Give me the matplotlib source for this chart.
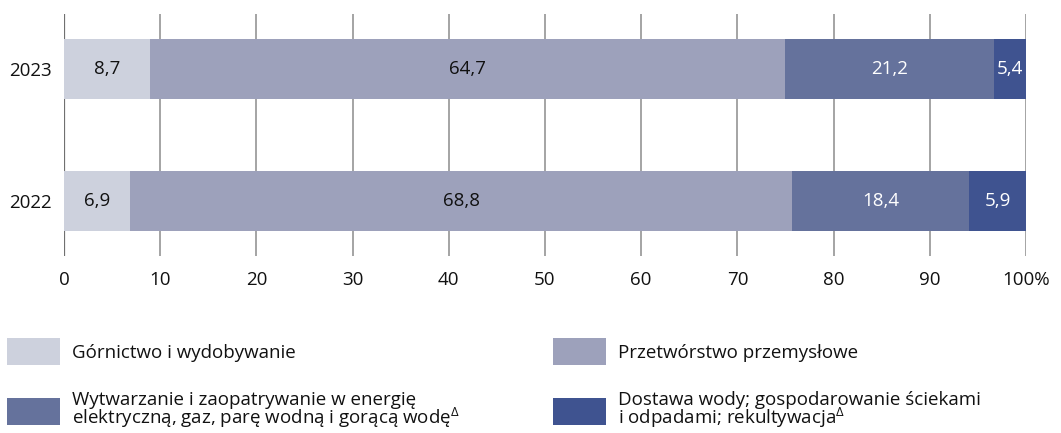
import matplotlib.pyplot as plt
import numpy as np

years = ['2022', '2023']
# values printed on the bars
gornictwo = [6.9, 8.7]
przetworstwo = [68.8, 64.7]
wytwarzanie = [18.4, 21.2]
dostawa = [5.9, 5.4]
# segment lengths as actually drawn in the source chart (2023 row does not match its labels)
gornictwo_drawn = [6.9, 8.9]
przetworstwo_drawn = [68.8, 66.0]
wytwarzanie_drawn = [18.4, 21.8]
dostawa_drawn = [5.9, 3.3]
xticks = [0, 10, 20, 30, 40, 50, 60, 70, 80, 90, 100]
xtick_labels = ['0', '10', '20', '30', '40', '50', '60', '70', '80', '90', '100%']

names = ['Górnictwo i wydobywanie',
         'Przetwórstwo przemysłowe',
         'Wytwarzanie i zaopatrywanie w energię\nelektryczną, gaz, parę wodną i gorącą wodę$^{\\Delta}$',
         'Dostawa wody; gospodarowanie ściekami\ni odpadami; rekultywacja$^{\\Delta}$']
colors = ['#CDD1DD', '#9DA1BB', '#65729C', '#3F5390']
text_colors = ['#111111', '#111111', 'white', 'white']

plt.rcParams['font.family'] = ['Open Sans', 'DejaVu Sans']
plt.rcParams['mathtext.fontset'] = 'custom'
plt.rcParams['mathtext.rm'] = 'Open Sans'
plt.rcParams['mathtext.it'] = 'Open Sans'

FS = 13.5

fig = plt.figure(figsize=(10.61, 4.33), dpi=100)
ax = fig.add_axes([0.0603, 0.4088, 0.9067, 0.5589])

y = np.arange(len(years))
series = [gornictwo, przetworstwo, wytwarzanie, dostawa]
drawn = [gornictwo_drawn, przetworstwo_drawn, wytwarzanie_drawn, dostawa_drawn]
left = np.zeros(len(years))
bars = []
for vals, widths, name, c, tc in zip(series, drawn, names, colors, text_colors):
    b = ax.barh(y, widths, left=left, height=0.455, color=c, label=name, zorder=2)
    ax.bar_label(b, labels=[f'{v:.1f}'.replace('.', ',') for v in vals],
                 label_type='center', color=tc, fontsize=FS)
    bars.append(b)
    left += np.array(widths)

ax.set_xlim(0, 100)
ax.set_ylim(-0.417, 1.417)
ax.set_yticks(y)
ax.set_yticklabels(years, fontsize=FS)
ax.set_xticks(xticks)
ax.set_xticklabels(xtick_labels, fontsize=FS)
ax.tick_params(axis='both', length=0, colors='#111111')
ax.tick_params(axis='x', pad=11)
ax.tick_params(axis='y', pad=8.5)
for s in ax.spines.values():
    s.set_visible(False)
for xv in xticks:
    ax.axvline(xv, color='#707070' if xv == 0 else '#8c8c8c',
               lw=1.6 if xv == 0 else 1.1, zorder=1)

W, H = 1061, 433
leg_kw = dict(loc='upper left', frameon=False, fontsize=FS, handlelength=2.83,
              handleheight=1.84, handletextpad=0.64, labelspacing=1.36,
              borderaxespad=0, borderpad=0)
for idx, x0 in [([0, 2], 7), ([1, 3], 553)]:
    leg = fig.legend([bars[i] for i in idx], [names[i] for i in idx],
                     bbox_to_anchor=(x0 / W, 1 - 338 / H), **leg_kw)
    for t in leg.get_texts():
        t.set_linespacing(0.85)
        t.set_color('#111111')

fig.savefig('out.png', dpi=100)
